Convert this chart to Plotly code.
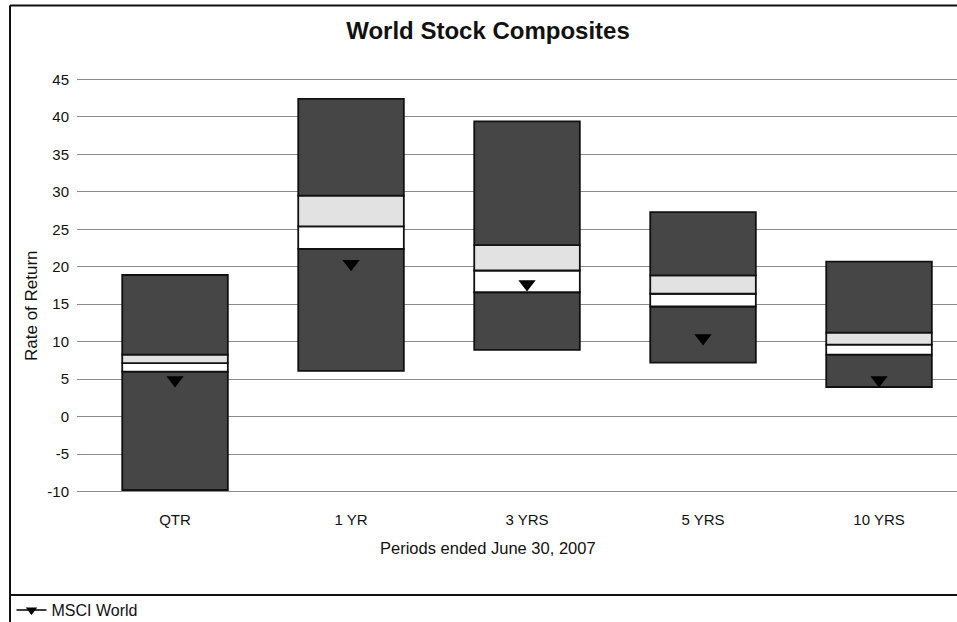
import plotly.graph_objects as go

# Periods and return distribution of the world stock composites (%)
periods = ["QTR", "1 YR", "3 YRS", "5 YRS", "10 YRS"]
low = [-9.8, 6.1, 8.9, 7.2, 3.95]          # minimum
q1 = [6.0, 22.4, 16.6, 14.7, 8.26]         # 25th percentile
median = [7.15, 25.4, 19.5, 16.4, 9.6]     # median
q3 = [8.26, 29.5, 22.9, 18.85, 11.2]       # 75th percentile
high = [18.9, 42.4, 39.4, 27.3, 20.7]      # maximum
msci_world = [4.9, 20.4, 17.7, 10.5, 4.9]  # benchmark

y_ticks = list(range(-10, 50, 5))
y_ticktext = [str(v) for v in y_ticks]

DARK = "#464646"
LIGHT = "#e2e2e2"
WHITE = "#ffffff"
FONT = "Liberation Sans, Arial, sans-serif"

xs = list(range(len(periods)))

def band(lo, hi, color):
    return go.Bar(
        x=xs,
        base=lo,
        y=[h - l for l, h in zip(lo, hi)],
        width=0.6,
        marker=dict(color=color, line=dict(color="#111111", width=1.8)),
        showlegend=False,
        hoverinfo="skip",
    )

fig = go.Figure()
fig.add_trace(band(low, q1, DARK))
fig.add_trace(band(q1, median, WHITE))
fig.add_trace(band(median, q3, LIGHT))
fig.add_trace(band(q3, high, DARK))

fig.add_trace(go.Scatter(
    x=xs, y=msci_world, mode="markers",
    marker=dict(symbol="triangle-down", size=15, color="#000000"),
    showlegend=False, name="MSCI World",
))
# legend entry: line with triangle marker
fig.add_trace(go.Scatter(
    x=[None], y=[None], mode="lines+markers", name="MSCI World",
    line=dict(color="#000000", width=1.5),
    marker=dict(symbol="triangle-down", size=10, color="#000000"),
))

# plot area geometry (pixels)
W, H = 957, 622
L, R, T, B = 77, 0, 72, 123
pw, ph = W - L - R, H - T - B

def px_x(p):
    return (p - L) / pw

def px_y(p):
    return (H - B - p) / ph

fig.update_layout(
    width=W, height=H,
    margin=dict(l=L, r=R, t=T, b=B, pad=0, autoexpand=False),
    paper_bgcolor="white", plot_bgcolor="white",
    barmode="overlay",
    font=dict(family=FONT, size=15, color="#111111"),
    title=dict(
        text="<b>World Stock Composites</b>",
        x=488 / W, xref="container", xanchor="center",
        y=1 - 31 / H, yref="container", yanchor="middle",
        font=dict(family=FONT, size=24, color="#111111"),
        automargin=False,
    ),
    xaxis=dict(
        range=[-0.557, 4.443],
        tickvals=xs, ticktext=periods,
        showgrid=False, zeroline=False, showline=False,
        ticks="outside", ticklen=7, tickcolor="rgba(0,0,0,0)",
        tickfont=dict(size=15), automargin=False,
    ),
    yaxis=dict(
        range=[-11, 46],
        tickvals=y_ticks, ticktext=y_ticktext,
        showgrid=True, gridcolor="#8a8a8a", gridwidth=1.2,
        zeroline=False, showline=False,
        ticks="outside", ticklen=4, tickcolor="rgba(0,0,0,0)",
        tickfont=dict(size=15), automargin=False,
    ),
    showlegend=True,
    legend=dict(
        xref="container", yref="container",
        x=0.012, y=1 - 610 / H, xanchor="left", yanchor="middle",
        bgcolor="rgba(0,0,0,0)", font=dict(size=16),
        itemwidth=30,
    ),
    annotations=[
        dict(text="Periods ended June 30, 2007", xref="paper", yref="paper",
             x=px_x(488), y=px_y(548), xanchor="center", yanchor="middle",
             showarrow=False, font=dict(size=16.5)),
        dict(text="Rate of Return", xref="paper", yref="paper",
             x=px_x(31), y=px_y(306), xanchor="center", yanchor="middle",
             textangle=-90, showarrow=False, font=dict(size=17)),
    ],
    shapes=[
        # outer frame: top, left, and legend separator
        dict(type="line", xref="paper", yref="paper",
             x0=px_x(10), x1=px_x(W + 5), y0=px_y(5.5), y1=px_y(5.5),
             line=dict(color="#111111", width=2)),
        dict(type="line", xref="paper", yref="paper",
             x0=px_x(10), x1=px_x(10), y0=px_y(5.5), y1=px_y(H + 5),
             line=dict(color="#111111", width=2)),
        dict(type="line", xref="paper", yref="paper",
             x0=px_x(10), x1=px_x(W + 5), y0=px_y(595), y1=px_y(595),
             line=dict(color="#111111", width=2)),
    ],
)

fig.write_html("out.html")
